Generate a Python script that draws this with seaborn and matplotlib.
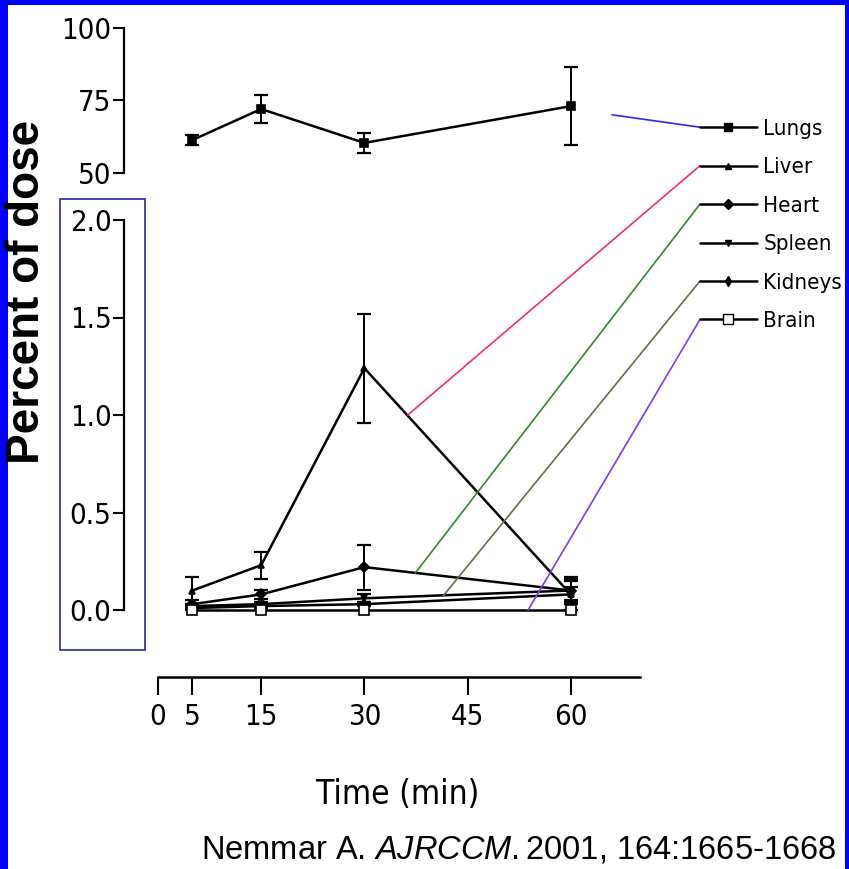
import matplotlib
matplotlib.use("Agg")
import matplotlib.pyplot as plt
from matplotlib import font_manager
from matplotlib.lines import Line2D
from matplotlib.patches import Rectangle, ConnectionPatch
import seaborn as sns

# ── data ────────────────────────────────────────────────────────────────────
TIME = [5, 15, 30, 60]

LUNGS       = [61.3, 72.0, 60.3, 73.0]
LUNGS_ERR   = [1.8, 4.7, 3.5, 13.5]
LIVER       = [0.10, 0.23, 1.24, 0.08]
LIVER_ERR   = [0.07, 0.07, 0.28, 0.08]
HEART       = [0.03, 0.08, 0.22, 0.10]
HEART_ERR   = [0.02, 0.025, 0.115, 0.07]
SPLEEN      = [0.02, 0.03, 0.06, 0.10]
SPLEEN_ERR  = [0.01, 0.01, 0.02, 0.05]
KIDNEYS     = [0.01, 0.02, 0.03, 0.08]
KIDNEYS_ERR = [0.01, 0.01, 0.01, 0.04]
BRAIN       = [0.0, 0.0, 0.0, 0.0]

ORGANS     = ["Lungs", "Liver", "Heart", "Spleen", "Kidneys", "Brain"]
X_TICKS    = [0, 5, 15, 30, 45, 60]
TOP_TICKS  = [50, 75, 100]
BOT_TICKS  = [0.0, 0.5, 1.0, 1.5, 2.0]
X_LABEL    = "Time (min)"
Y_LABEL    = "Percent of dose"
CITATION   = r"Nemmar A. $\mathit{AJRCCM.}$2001, 164:1665-1668"

# marker style per organ
MARKERS = {
    "Lungs":   dict(marker="s", ms=6, mfc="black"),
    "Liver":   dict(marker="^", ms=5, mfc="black"),
    "Heart":   dict(marker="D", ms=5, mfc="black"),
    "Spleen":  dict(marker="v", ms=5, mfc="black"),
    "Kidneys": dict(marker="d", ms=5, mfc="black"),
    "Brain":   dict(marker="s", ms=7, mfc="white"),
}
# coloured leader lines: anchor (time, value) -> legend entry
LEADERS = {
    "Lungs":   (66.0, 70.0, "#2b2bdd"),
    "Liver":   (36.3, 1.00, "#f0306a"),
    "Heart":   (37.4, 0.19, "#2f8a2f"),
    "Kidneys": (41.4, 0.07, "#6b6b4a"),
    "Brain":   (53.8, 0.00, "#7a3cf5"),
}

W, H = 849, 869
X0_PX, XPX_PER_MIN = 158, 6.88     # where t=0 sits, pixels per minute
AX_LEFT, AX_RIGHT = 124, 640

ttf = font_manager.fontManager.ttflist
names = {f.name for f in ttf}
ARIAL = "Liberation Sans" if "Liberation Sans" in names else "DejaVu Sans"
narrow = [f for f in ttf if ("Narrow" in f.name or "Condensed" in f.fname
                             or f.stretch == "condensed")
          and f.weight in (400, "normal") and f.style == "normal"]
NARROW_PROP = (font_manager.FontProperties(fname=narrow[0].fname) if narrow
               else font_manager.FontProperties(family=ARIAL))

sns.set_theme(style="white")
plt.rcParams["font.family"] = [ARIAL, "DejaVu Sans"]
plt.rcParams["text.color"] = "black"
plt.rcParams["mathtext.fontset"] = "custom"
plt.rcParams["mathtext.it"] = f"{ARIAL}:italic"
plt.rcParams["mathtext.rm"] = ARIAL


def fy(px):
    return 1 - px / H


def narrow_font(size):
    fp = NARROW_PROP.copy()
    fp.set_size(size)
    return fp


fig = plt.figure(figsize=(W / 100, H / 100), dpi=100)
fig.patch.set_facecolor("#0000ff")
fig.add_artist(Rectangle((8 / W, 0), (845 - 8) / W, (H - 5) / H,
                         transform=fig.transFigure, facecolor="white",
                         edgecolor="none", zorder=-10))

left = AX_LEFT / W
width = (AX_RIGHT - AX_LEFT) / W
xlim = (-(X0_PX - AX_LEFT) / XPX_PER_MIN, (AX_RIGHT - X0_PX) / XPX_PER_MIN)

ax_top = fig.add_axes([left, fy(172.7), width, fy(28) - fy(172.7)])
ax_bot = fig.add_axes([left, fy(610), width, fy(220) - fy(610)])
ax_x = fig.add_axes([left, fy(677), width, 0.01])

for ax in (ax_top, ax_bot, ax_x):
    ax.set_facecolor("none")
    ax.set_xlim(*xlim)
    for s in ax.spines.values():
        s.set_visible(False)
    ax.grid(False)

# ── y axes ──────────────────────────────────────────────────────────────────
for ax, ticks, fmt in ((ax_top, TOP_TICKS, "{:.0f}"), (ax_bot, BOT_TICKS, "{:.1f}")):
    ax.set_ylim(ticks[0], ticks[-1])
    ax.spines["left"].set_visible(True)
    ax.spines["left"].set_color("black")
    ax.spines["left"].set_linewidth(1.6)
    ax.set_yticks(ticks)
    ax.set_yticklabels([fmt.format(t) for t in ticks], fontproperties=narrow_font(21))
    ax.set_xticks([])
    ax.tick_params(axis="y", left=True, direction="out", length=8, width=1.5,
                   pad=1, colors="black")

# ── x axis ──────────────────────────────────────────────────────────────────
ax_x.spines["bottom"].set_visible(True)
ax_x.spines["bottom"].set_color("black")
ax_x.spines["bottom"].set_linewidth(1.8)
ax_x.spines["bottom"].set_bounds(0, xlim[1])
ax_x.set_yticks([])
ax_x.set_xticks(X_TICKS)
ax_x.set_xticklabels([str(t) for t in X_TICKS], fontproperties=narrow_font(21))
ax_x.tick_params(axis="x", bottom=True, direction="out", length=13, width=1.5,
                 pad=6, colors="black")

# ── series ──────────────────────────────────────────────────────────────────
series = [
    ("Lungs", ax_top, LUNGS, LUNGS_ERR),
    ("Liver", ax_bot, LIVER, LIVER_ERR),
    ("Heart", ax_bot, HEART, HEART_ERR),
    ("Spleen", ax_bot, SPLEEN, SPLEEN_ERR),
    ("Kidneys", ax_bot, KIDNEYS, KIDNEYS_ERR),
    ("Brain", ax_bot, BRAIN, None),
]
for name, ax, vals, errs in series:
    st = MARKERS[name]
    sns.lineplot(x=TIME, y=vals, ax=ax, color="black", lw=1.8,
                 marker=st["marker"], markersize=st["ms"],
                 markerfacecolor=st["mfc"], markeredgecolor="black",
                 markeredgewidth=1.2, clip_on=False, zorder=3, legend=False)
    if errs is not None:
        ax.errorbar(TIME, vals, yerr=errs, fmt="none", ecolor="black",
                    elinewidth=1.4, capsize=5, capthick=1.6, clip_on=False,
                    zorder=3)

# ── legend ──────────────────────────────────────────────────────────────────
handles = [Line2D([], [], color="black", lw=1.8, marker=MARKERS[n]["marker"],
                  markersize=MARKERS[n]["ms"], markerfacecolor=MARKERS[n]["mfc"],
                  markeredgecolor="black") for n in ORGANS]
leg = fig.legend(handles, ORGANS, loc="upper left",
                 bbox_to_anchor=(700 / W, fy(119)), bbox_transform=fig.transFigure,
                 frameon=False, prop=narrow_font(16), handlelength=2.55,
                 handletextpad=0.3, labelspacing=0.83, borderpad=0,
                 borderaxespad=0)
for t in leg.get_texts():
    t.set_color("black")

# ── labels & frame decorations ──────────────────────────────────────────────
fig.text(398 / W, fy(795), X_LABEL, ha="center", va="center",
         fontproperties=narrow_font(24))
fig.text(27 / W, fy(292), Y_LABEL, ha="center", va="center", rotation=90,
         fontsize=33, fontweight="bold", family=[ARIAL, "DejaVu Sans"])
fig.text(519 / W, fy(850), CITATION, ha="center", va="center", fontsize=23.5,
         family=[ARIAL, "DejaVu Sans"])
fig.add_artist(Rectangle((60 / W, fy(650)), (145 - 60) / W, fy(199) - fy(650),
                         transform=fig.transFigure, facecolor="none",
                         edgecolor="#2a2a9a", lw=1.2))

# leader lines to the legend entries
fig.canvas.draw()
for name, h in zip(ORGANS, leg.legend_handles):
    if name not in LEADERS:
        continue
    t, v, col = LEADERS[name]
    ax = ax_top if name == "Lungs" else ax_bot
    xb, yb = h.get_transform().transform(h.get_xydata())[0]
    fig.add_artist(ConnectionPatch(xyA=(t, v), coordsA=ax.transData,
                                   xyB=(xb, yb), coordsB="figure pixels",
                                   color=col, lw=1.2, zorder=2))

fig.savefig("out.png", dpi=100)
